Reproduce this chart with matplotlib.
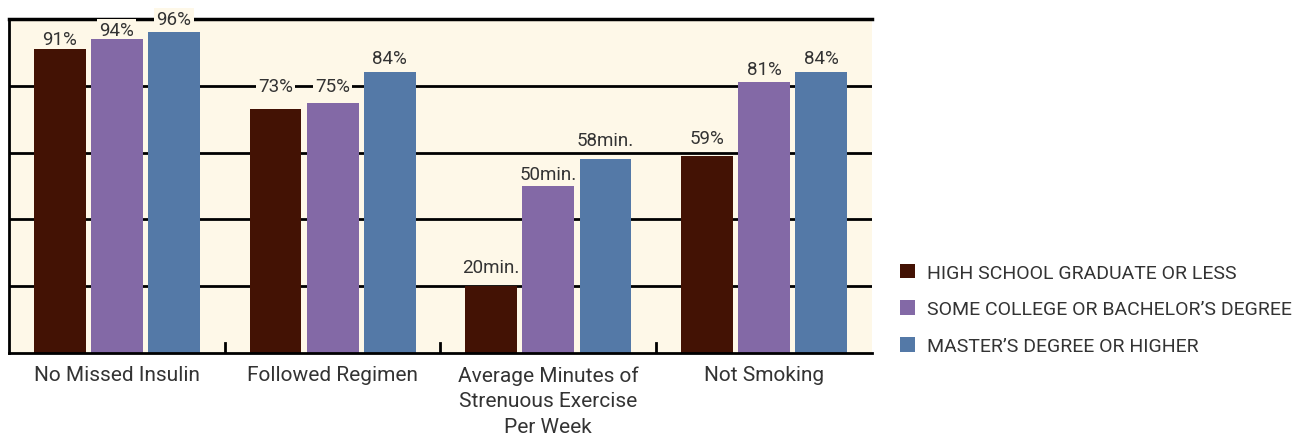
import numpy as np
import matplotlib.pyplot as plt

categories = ['No Missed Insulin', 'Followed Regimen',
              'Average Minutes of\nStrenuous Exercise\nPer Week', 'Not Smoking']
series_names = ['HIGH SCHOOL GRADUATE OR LESS',
                'SOME COLLEGE OR BACHELOR\u2019S DEGREE',
                'MASTER\u2019S DEGREE OR HIGHER']
high_school = [91, 73, 20, 59]
some_college = [94, 75, 50, 81]
masters = [96, 84, 58, 84]
units = ['%', '%', 'min.', '%']

# gap (pixels) between bar top and the centre of its value label
label_gaps = [[10, 22.5, 19, 17.5],
              [8.5, 16.5, 11, 13],
              [13, 14, 19, 14]]

colors = ['#431204', '#8369A6', '#5479A7']
bg = '#FEF8E8'
txt = '#333333'

plt.rcParams['font.family'] = ['Roboto', 'DejaVu Sans']

fig = plt.figure(figsize=(13.16, 4.39), dpi=100)
ax = fig.add_axes([9 / 1316, 85 / 439, 863 / 1316, 334 / 439])
ax.set_facecolor(bg)

x = np.arange(len(categories))
width = 0.24
step = 0.265
all_series = [high_school, some_college, masters]
for i, (vals, c, name) in enumerate(zip(all_series, colors, series_names)):
    pos = x + (i - 1) * step
    ax.bar(pos, vals, width, color=c, label=name, zorder=4)
    for p, v, u, g in zip(pos, vals, units, label_gaps[i]):
        ax.annotate('{}{}'.format(v, u), xy=(p, v), xytext=(0, (g + 0.5) * 0.72),
                    textcoords='offset points', ha='center', va='center',
                    fontsize=13.5, color=txt, zorder=3,
                    bbox=dict(facecolor=bg, edgecolor='none', pad=1.5))

ax.set_xlim(-0.5, 3.5)
ax.set_ylim(0, 100)
ax.set_yticks([20, 40, 60, 80])
ax.yaxis.grid(True, color='black', linewidth=2, zorder=1)
ax.tick_params(axis='y', length=0, labelleft=False)
ax.set_xticks(x)
ax.set_xticklabels(categories, fontsize=15, color=txt, linespacing=1.42)
ax.tick_params(axis='x', length=0, pad=9)
for b in [0.5, 1.5, 2.5]:
    ax.plot([b, b], [0, 3], color='black', linewidth=2, zorder=5)
for s in ax.spines.values():
    s.set_linewidth(2)
ax.spines['right'].set_visible(False)
ax.spines['top'].set_linewidth(2.5)
ax.spines['bottom'].set_zorder(5)

leg = fig.legend(loc='upper left', bbox_to_anchor=(882 / 1316, 1 - 247 / 439),
                 frameon=False, fontsize=14, handlelength=0.8, handleheight=0.8,
                 handletextpad=0.6, labelspacing=0.95)
for t in leg.get_texts():
    t.set_color(txt)

fig.savefig('out.png', dpi=100)
